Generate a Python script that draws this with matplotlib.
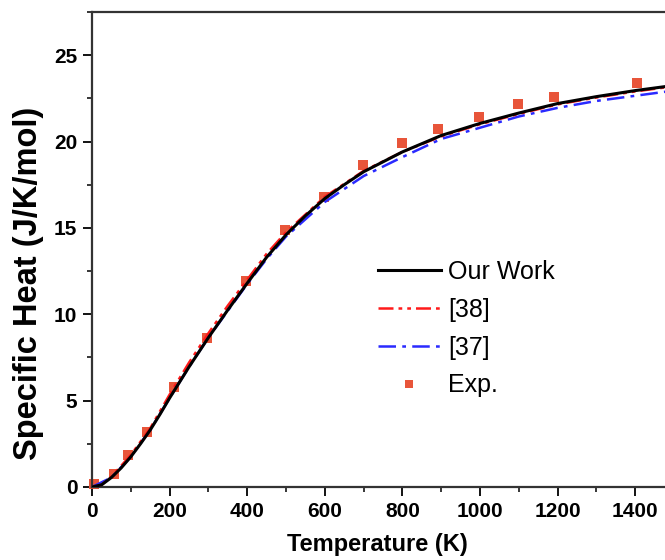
import numpy as np
import matplotlib.pyplot as plt
from matplotlib.ticker import MultipleLocator

plt.rcParams['font.family'] = ['Liberation Sans', 'DejaVu Sans']

# Our Work (black solid)
t_ours = [0, 25, 50, 75, 100, 125, 150, 175, 200, 250, 300, 350, 400, 450, 500, 550, 600, 650,
          700, 800, 900, 1000, 1100, 1200, 1300, 1400, 1500]
cp_ours = [0, 0.13, 0.55, 1.1, 1.75, 2.5, 3.3, 4.2, 5.15, 6.95, 8.65, 10.25, 11.8, 13.3, 14.6, 15.7, 16.7, 17.5,
           18.25, 19.4, 20.35, 21.05, 21.65, 22.2, 22.6, 22.95, 23.25]

# [38] (red dash-dot-dot)
t_ref38 = [0, 25, 50, 100, 150, 200, 250, 300, 350, 400, 450, 500, 600, 700, 800, 900,
           1000, 1100, 1200, 1300, 1400, 1500]
cp_ref38 = [0, 0.13, 0.6, 1.85, 3.4, 5.35, 7.2, 8.9, 10.5, 12.0, 13.5, 14.75, 16.8, 18.3, 19.4, 20.3,
            21.0, 21.6, 22.15, 22.55, 22.9, 23.2]

# [37] (blue dash-dot)
t_ref37 = [0, 50, 100, 150, 200, 250, 300, 350, 400, 450, 500, 600, 700, 800, 900,
           1000, 1100, 1200, 1300, 1400, 1500]
cp_ref37 = [0, 0.55, 1.75, 3.3, 5.15, 6.95, 8.65, 10.2, 11.75, 13.2, 14.5, 16.5, 18.0, 19.1, 20.15,
            20.8, 21.45, 21.95, 22.35, 22.65, 22.95]

# experimental points
t_exp = [5, 57, 93, 142, 212, 297, 398, 497, 598, 698, 799, 892, 998, 1098, 1192, 1405]
cp_exp = [0.2, 0.75, 1.85, 3.2, 5.8, 8.65, 11.9, 14.9, 16.8, 18.65, 19.9, 20.75, 21.4, 22.2, 22.6, 23.4]


def main():
    fig = plt.figure(figsize=(6.65, 5.6), dpi=100)
    ax = fig.add_axes([92 / 665, 73 / 560, 582 / 665, 475 / 560])

    ax.plot(t_exp, cp_exp, 's', color='#e8553a', markersize=7.2, markeredgewidth=0,
            label='Exp.', zorder=2, clip_on=False)
    ax.plot(t_ours, cp_ours, '-', color='black', lw=2.2, label='Our Work', zorder=5)
    ax.plot(t_ref38, cp_ref38, color='#ff1a1a', lw=1.8, dashes=(6, 2, 1.5, 2, 1.5, 2),
            label='[38]', zorder=4)
    ax.plot(t_ref37, cp_ref37, color='#2a2aff', lw=1.8, dashes=(7, 2.5, 1.5, 2.5),
            label='[37]', zorder=3)

    ax.set_xlim(0, 1500)
    ax.set_ylim(0, 27.5)
    ax.xaxis.set_major_locator(MultipleLocator(200))
    ax.xaxis.set_minor_locator(MultipleLocator(100))
    ax.yaxis.set_major_locator(MultipleLocator(5))
    ax.yaxis.set_minor_locator(MultipleLocator(2.5))
    ax.tick_params(which='major', direction='out', length=6.5, width=1.3, pad=4,
                   labelsize=15)
    ax.tick_params(which='minor', direction='out', length=3.5, width=1.1)
    for lab in ax.get_xticklabels() + ax.get_yticklabels():
        lab.set_fontweight('bold')
    for sp in ax.spines.values():
        sp.set_linewidth(1.6)
        sp.set_color('#333333')

    ax.set_xlabel('Temperature (K)', fontsize=17, fontweight='bold')
    ax.set_ylabel('Specific Heat (J/K/mol)', fontsize=23.5, fontweight='bold')
    ax.xaxis.set_label_coords((377 - 92) / 582, (487 - 533) / 475)
    ax.yaxis.set_label_coords((44 - 92) / 582, (487 - 283) / 475)

    h, l = ax.get_legend_handles_labels()
    order = [1, 2, 3, 0]
    ax.legend([h[i] for i in order], [l[i] for i in order], frameon=False,
              loc='upper left', bbox_to_anchor=((378 - 92) / 582, (487 - 260) / 475),
              fontsize=18, handlelength=2.5, handletextpad=0.3, labelspacing=0.55,
              borderpad=0, borderaxespad=0, markerscale=0.8)

    fig.savefig('out.png', dpi=100)


if __name__ == '__main__':
    main()
